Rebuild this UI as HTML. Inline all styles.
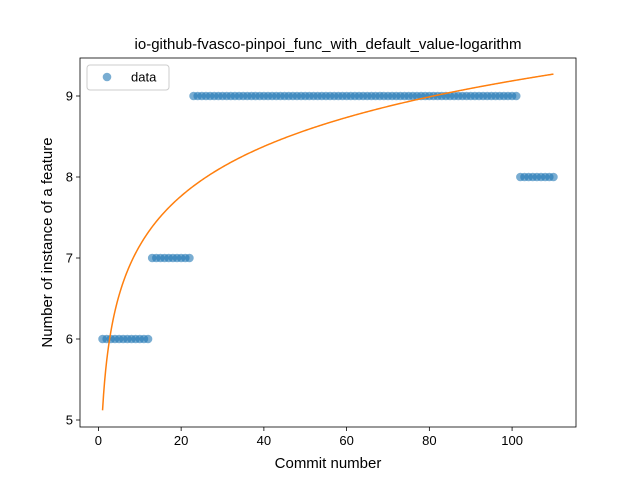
<!DOCTYPE html>
<html><head><meta charset="utf-8"><style>
body{margin:0;background:#fff;font-family:"Liberation Sans","DejaVu Sans",sans-serif;}
</style></head><body>
<svg id="chart" width="640" height="480" xmlns="http://www.w3.org/2000/svg" font-family="Liberation Sans, DejaVu Sans, sans-serif">
<rect width="640" height="480" fill="#fff"/>
<g id="plot"></g>
</svg>
<script>
const xTicks=[0,20,40,60,80,100];
const yTicks=[5,6,7,8,9];
const yValues=[
6,6,6,6,6,6,6,6,6,6,
6,6,
7,7,7,7,7,7,7,7,7,7,
9,9,9,9,9,9,9,9,9,9,
9,9,9,9,9,9,9,9,9,9,
9,9,9,9,9,9,9,9,9,9,
9,9,9,9,9,9,9,9,9,9,
9,9,9,9,9,9,9,9,9,9,
9,9,9,9,9,9,9,9,9,9,
9,9,9,9,9,9,9,9,9,9,
9,9,9,9,9,9,9,9,9,
8,8,8,8,8,8,8,8,8];
const fitParams=[5.12,0.883];
const xValues=yValues.map((_,i)=>i+1);
const L=80,R=576,T=58,B=427;
const xMin=-4.45,xMax=115.45;
const sx=v=>L+(v-xMin)/(xMax-xMin)*(R-L);
const sy=v=>420-(v-5)*81;
const NS="http://www.w3.org/2000/svg";
const g=document.getElementById('plot');
function mk(tag,attrs,text){const e=document.createElementNS(NS,tag);for(const k in attrs)e.setAttribute(k,attrs[k]);if(text!==undefined)e.textContent=text;g.appendChild(e);return e;}
xTicks.forEach(t=>{const x=sx(t);
const l=mk('line',{x1:x,x2:x,y1:B,y2:B+4,stroke:'#000','stroke-width':0.8});


const tx=mk('text',{x:x,y:B+18,'font-size':13,'text-anchor':'middle'},t);

});
yTicks.forEach(t=>{const y=sy(t);
const l=mk('line',{x1:L-4,x2:L,y1:y,y2:y,stroke:'#000','stroke-width':0.8});


const tx=mk('text',{x:L-7,y:y+4.5,'font-size':13,'text-anchor':'end'},t);

});
xValues.forEach((x,i)=>{const c=mk('circle',{cx:sx(x),cy:sy(yValues[i]),r:4.3,fill:'#1f77b4','fill-opacity':0.6});

});
let d='';for(let x=1;x<=110;x+=0.25){d+=(d?'L':'M')+sx(x).toFixed(2)+','+sy(fitParams[0]+fitParams[1]*Math.log(x)).toFixed(2);}
const p=mk('path',{d:d,fill:'none',stroke:'#ff7f0e','stroke-width':1.5});


const fr=mk('rect',{x:L,y:T,width:R-L,height:B-T,fill:'none',stroke:'#000','stroke-width':0.8});


const ti=mk('text',{x:(L+R)/2,y:T-9,'font-size':15,'text-anchor':'middle'},'io-github-fvasco-pinpoi_func_with_default_value-logarithm');


const xl=mk('text',{x:(L+R)/2,y:468,'font-size':15,'text-anchor':'middle'},'Commit number');


const yl=mk('text',{x:0,y:0,'font-size':15,'text-anchor':'middle',transform:'translate(52,'+((T+B)/2)+') rotate(-90)'},'Number of instance of a feature');


const lb=mk('rect',{x:87,y:65,width:82,height:25,rx:3,fill:'#fff','fill-opacity':0.8,stroke:'#ccc','stroke-width':1});


const lc=mk('circle',{cx:107,cy:77,r:4.3,fill:'#1f77b4','fill-opacity':0.6});


const lt=mk('text',{x:131,y:81.5,'font-size':13},'data');


</script>
</body></html>
